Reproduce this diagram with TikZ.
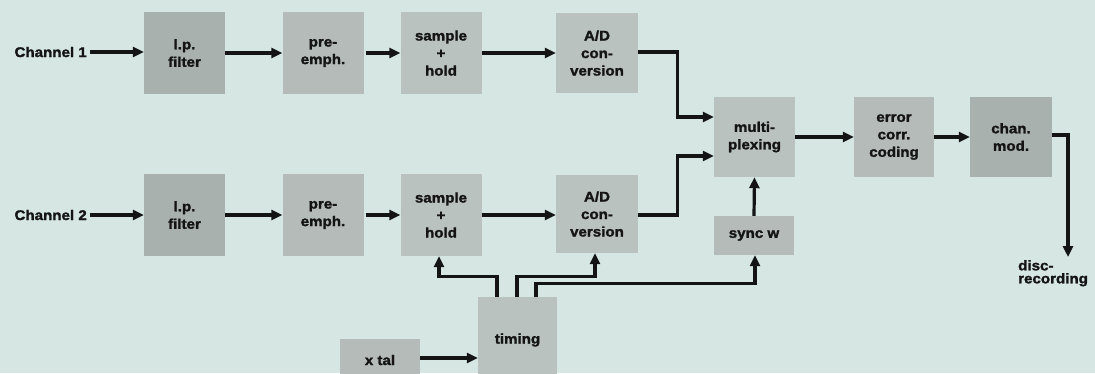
\documentclass[tikz,border=0pt]{standalone}
\usepackage{fontspec}
\newfontfamily\labfont[FakeStretch=1.08, BoldFeatures={FakeBold=1.6}]{Liberation Sans}
\usetikzlibrary{arrows.meta}
\definecolor{bg}{HTML}{D6E6E3}
\definecolor{boxA}{HTML}{A9B1AE}
\definecolor{boxB}{HTML}{B4BBB8}
\definecolor{boxC}{HTML}{BAC2BF}
\definecolor{ink}{HTML}{141414}
\tikzset{
  blk/.style={rectangle, fill=boxB, minimum width=81pt, minimum height=82pt,
    inner sep=0pt, align=center, text=ink,
    font=\labfont\bfseries\fontsize{14}{17.5}\selectfont},
  lbl/.style={inner sep=0pt, text=ink, font=\labfont\bfseries\fontsize{14}{13}\selectfont},
  arr/.style={draw=ink, line width=3.2pt,
    -{Triangle[length=11pt,width=10pt]}},
}
\begin{document}
\begin{tikzpicture}[x=1pt,y=-1pt]
\useasboundingbox (0,0) rectangle (1095,373);
\clip (0,0) rectangle (1095,373);
\fill[bg] (0,0) rectangle (1095,373);
% row 1
\node[lbl, anchor=east] (ch1) at (87,52) {Channel 1};
\node[blk, fill=boxA] (lp1) at (184.5,53) {l.p.\\filter};
\node[blk] (pe1) at (323,53) {pre-\\emph.};
\node[blk, fill=boxC] (sh1) at (441,53) {sample\\+\\hold};
\node[blk, fill=boxC, minimum width=82pt, minimum height=80pt] (ad1) at (597,53) {A/D\\con-\\version};
% row 2
\node[lbl, anchor=east] (ch2) at (87,215) {Channel 2};
\node[blk, fill=boxA] (lp2) at (184.5,215) {l.p.\\filter};
\node[blk] (pe2) at (323,215) {pre-\\emph.};
\node[blk, fill=boxC] (sh2) at (441,215) {sample\\+\\hold};
\node[blk, fill=boxC, minimum width=82pt, minimum height=78pt] (ad2) at (597,214) {A/D\\con-\\version};
% right part
\node[blk, fill=boxC, minimum height=80pt] (mux) at (754.5,137) {multi-\\plexing};
\node[blk, minimum width=80pt, minimum height=80pt] (ecc) at (894,137) {error\\corr.\\coding};
\node[blk, fill=boxA, minimum width=82pt, minimum height=80pt] (cm) at (1011,137) {chan.\\mod.};
\node[blk, fill=boxB, minimum width=80pt, minimum height=39pt] (sync) at (754,235.5) {sync w};
\node[blk, fill=boxC, minimum width=79pt, minimum height=86pt] (tim) at (517.5,340) {timing};
\node[blk, minimum width=80pt, minimum height=42pt] (xtal) at (380,360) {x tal};
\node[lbl, anchor=north west, align=left] (disc) at (1018,260) {disc-\\recording};
\coordinate (dtip) at (1068,257);
% connectors row 1
\draw[arr] ([xshift=3pt]ch1.east) -- (lp1.west |- ch1);
\draw[arr] (lp1.east) -- (pe1.west);
\draw[arr] ([xshift=2pt]pe1.east) -- (sh1.west);
\draw[arr] (sh1.east) -- (ad1.west);
\draw[arr] ([yshift=1pt]ad1.east) -- ++(39,0) |- ([yshift=20pt]mux.west);
% connectors row 2
\draw[arr] ([xshift=3pt]ch2.east) -- (lp2.west |- ch2);
\draw[arr] (lp2.east) -- (pe2.west);
\draw[arr] ([xshift=2pt]pe2.east) -- (sh2.west);
\draw[arr] (sh2.east) -- (ad2.west |- sh2.east);
\draw[arr] (ad2.east |- sh2.east) -- ++(39,0) |- ([yshift=-19pt]mux.west);
% right
\draw[arr] (mux.east) -- (ecc.west);
\draw[arr] (ecc.east) -- (cm.west);
\draw[arr] ([yshift=2pt]cm.east) -| (dtip);
\draw[arr] (sync.north) -- (mux.south);
% timing
\draw[arr] ([xshift=-20.5pt]tim.north) -- ++(0,-20) -| ([xshift=-2pt]sh2.south);
\draw[arr] ([xshift=-0.5pt]tim.north) -- ++(0,-20) -| ([xshift=-2pt]ad2.south);
\draw[arr] ([xshift=18.5pt]tim.north) -- ++(0,-13) -| ([xshift=1pt]sync.south);
\draw[arr] ([yshift=2pt]xtal.east) -- ([yshift=2pt]xtal.east -| tim.west);
\end{tikzpicture}
\end{document}
